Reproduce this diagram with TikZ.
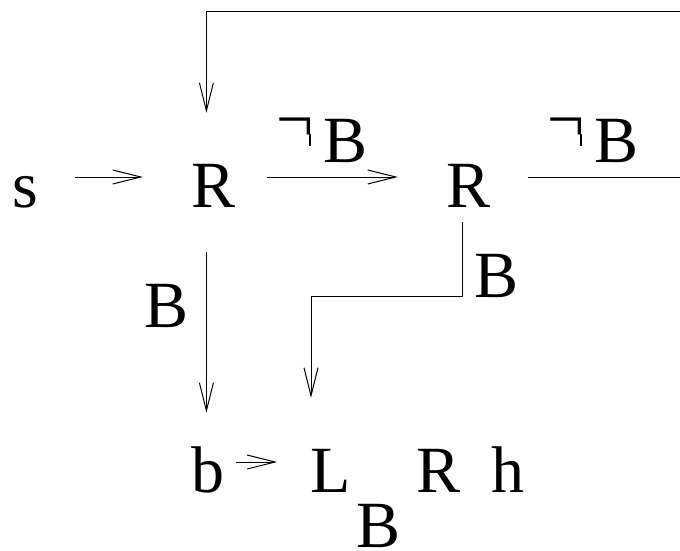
\documentclass[tikz,border=0pt]{standalone}
\usepackage{fontspec}
\setmainfont{Liberation Serif}
\usetikzlibrary{arrows.meta}
\newcommand{\negsym}{\raisebox{20.5pt}{¬}\kern-5pt\rule[16pt]{2.4pt}{12pt}\kern2.6pt}
\begin{document}
\begin{tikzpicture}[x=1pt,y=-1pt,
  lbl/.style={inner sep=0pt, anchor=base, text height=44pt, text depth=0pt, font=\fontsize{66}{66}\selectfont},
  arr/.style={line width=1pt, -{Straight Barb[length=28pt,width=14pt]}},
  ln/.style={line width=1pt}]
\useasboundingbox (0,0) rectangle (680,550);
\clip (0,0) rectangle (680,550);
% nodes
\node[lbl] (s)  at (25,207)  {s};
\node[lbl] (R1) at (214,207) {R};
\node[lbl] (R2) at (468.5,207) {R};
\node[lbl] (b)  at (207.5,492) {b};
\node[lbl] (L)  at (331,492) {L};
\node[lbl] (R3) at (438.5,492) {R};
\node[lbl] (h)  at (508,492) {h};
\node[lbl] (Bb) at (379,547) {B};
\node[lbl] (Bl) at (167,327) {B};
\node[lbl] (Br) at (496.5,297) {B};
\node[lbl, anchor=base east] (nB1) at (368,162) {\negsym\kern10pt B};
\node[lbl, anchor=base east] (nB2) at (639,162) {\negsym\kern10pt B};
% connectors
\coordinate (loopR) at (682,177);
\coordinate (loopT) at (682,11.7);
\draw[arr, shorten <=37pt, shorten >=49pt] ([yshift=8pt]s.east) -- ([yshift=8pt]R1.west);
\draw[arr, shorten <=31pt, shorten >=48.5pt] ([yshift=8pt]R1.east) -- ([yshift=8pt]R2.west);
\draw[arr] ([xshift=37pt,yshift=8pt]R2.east) -- (loopR) -- (loopT) -| ([xshift=-7.6pt,yshift=50pt]R1.north);
\draw[arr, shorten <=45pt, shorten >=35pt] ([xshift=-7.6pt]R1.south) -- ([xshift=-7.6pt]R1.south |- b.north);
\draw[arr] ([xshift=-6.5pt,yshift=-15pt]R2.south) -- ([xshift=-6.5pt,yshift=-89pt]R2.south) -| ([xshift=-20pt,yshift=50pt]L.north);
\draw[arr, shorten <=12pt, shorten >=33.5pt] ([yshift=8pt]b.east) -- ([yshift=8pt]L.west);
\end{tikzpicture}
\end{document}
